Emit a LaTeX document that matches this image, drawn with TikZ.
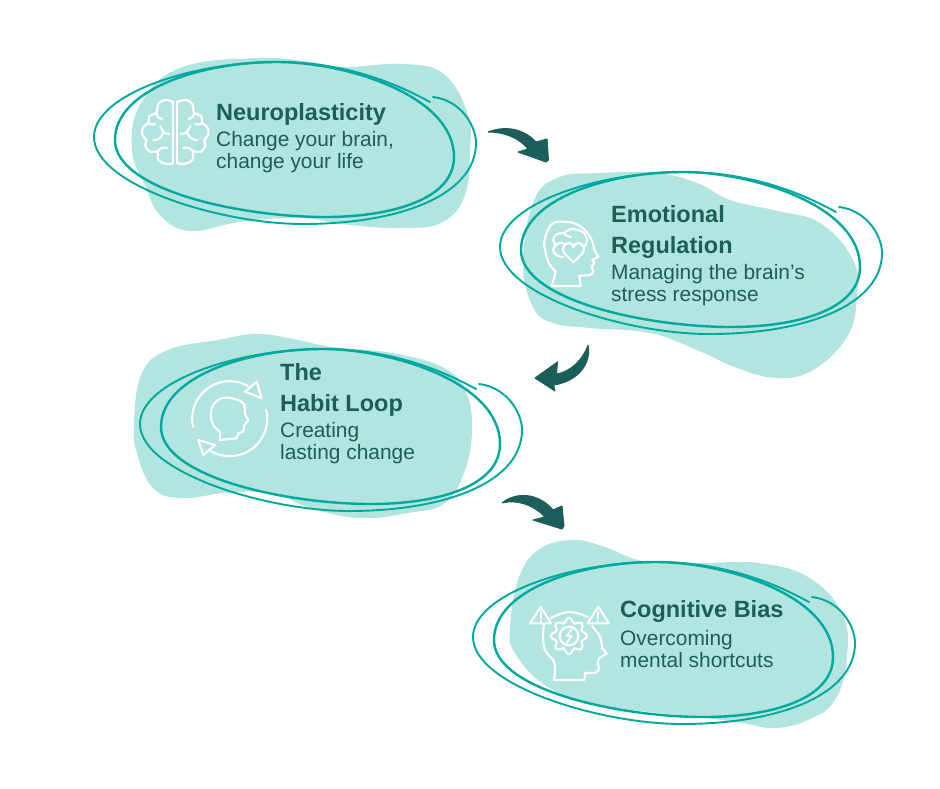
\documentclass[tikz,border=0pt]{standalone}
\usepackage{fontspec}
\setmainfont{Liberation Sans}
\definecolor{blobfill}{HTML}{B2E4E0}
\definecolor{ringline}{HTML}{00A99D}
\definecolor{darkteal}{HTML}{1C5E5A}
\tikzset{
  blob/.style={fill=blobfill,draw=none},
  ringstroke/.style={draw=ringline,line cap=round},
  icon/.style={draw=white,line width=2.1pt,line join=round,line cap=round},
  hop/.style={fill=darkteal,draw=darkteal,line width=1pt,line join=round},
  titletext/.style={anchor=base west,inner sep=0pt,text=darkteal,font=\fontsize{23.5}{26}\selectfont\bfseries},
  bodytext/.style={anchor=base west,inner sep=0pt,text=darkteal,font=\fontsize{20.9}{22}\selectfont},
  pics/scribble/.style={code={
    \draw[ringstroke,line width=1.9pt] (433,97) .. controls (460,100) and (476,125) .. (476,143) .. controls (476,195) and (400,224) .. (303,224) .. controls (220,224) and (94,185) .. (94,137) .. controls (94,95) and (190,62) .. (277,62) .. controls (340,62) and (390,80) .. (430,102);
    \draw[ringstroke,line width=2.4pt] (277,62) .. controls (345,62) and (454,95) .. (454,157) .. controls (454,200) and (390,217) .. (325,217) .. controls (240,217) and (115,190) .. (115,140) .. controls (115,90) and (200,62) .. (277,62) -- cycle;
  }},
}
\begin{document}
\begin{tikzpicture}[x=1pt,y=-1pt]
\useasboundingbox (0,0) rectangle (940,788);

\fill[blob] plot[smooth cycle,tension=0.7] coordinates {(132,150) (140,105) (180,68) (257,58) (310,62) (345,67) (405,64) (445,75) (468,115) (470,150) (465,195) (443,222) (405,228) (350,225) (300,218) (240,222) (190,231) (160,215) (145,185)};
\fill[blob] plot[smooth cycle,tension=0.7] coordinates {(523,263) (533,203) (557,178) (600,173) (657,173) (697,183) (730,200) (773,210) (820,223) (853,260) (857,297) (847,337) (813,370) (777,378) (737,368) (697,350) (650,333) (590,328) (553,323) (533,307)};
\fill[blob] plot[smooth cycle,tension=0.7] coordinates {(134,423) (142,373) (168,350) (218,340) (258,334) (298,340) (332,347) (392,353) (442,367) (465,390) (472,427) (465,470) (445,503) (408,513) (358,518) (308,507) (272,493) (225,493) (185,498) (155,490) (138,457)};
\fill[blob] plot[smooth cycle,tension=0.7] coordinates {(510,630) (518,580) (538,550) (572,540) (605,547) (638,560) (672,562) (705,563) (758,563) (808,577) (842,613) (847,657) (835,700) (808,720) (775,728) (742,723) (698,717) (632,710) (585,703) (542,683) (515,653)};

\pic at (0,0) {scribble};
\pic at (406,110) {scribble};
\pic at (46,287) {scribble};
\pic at (379,500) {scribble};

% brain
\begin{scope}[shift={(175.3,132)}]
\foreach \s in {1,-1} {
\begin{scope}[xscale=\s]
\draw[icon] (-2,-30) -- (-2,31);
\draw[icon] plot[smooth,tension=0.7] coordinates {(-2,-30) (-10,-32) (-17,-28) (-19,-19) (-26,-16) (-27,-9) (-32,-5) (-33,3) (-29,8) (-30,14) (-25,20) (-18,20) (-17,28) (-9,32) (-2,31)};
\draw[icon] (-19,-19) .. controls (-18,-14) and (-15,-13) .. (-13,-13);
\draw[icon] (-27,-9) .. controls (-24,-7) and (-22,-7) .. (-20,-8);
\draw[icon] (-15,-6) .. controls (-13,-1) and (-11,2) .. (-6,2);
\draw[icon] (-12,1) .. controls (-14,6) and (-17,8) .. (-22,8);
\draw[icon] (-18,20) .. controls (-16,16) and (-12,15) .. (-8,16);
\end{scope}
}
\end{scope}

% head with heart
\draw[icon] plot[smooth,tension=0.5] coordinates {(579.3,275.7) (590,275) (593.3,271.7) (591.7,266.7) (594.3,263.3) (592.3,260)};
\draw[icon] (592.3,260) -- (598.3,256.7) -- (594.3,250);
\draw[icon] plot[smooth,tension=0.7] coordinates {(594.3,250) (590,236.7) (578.3,225) (563.3,221.7) (551.7,224.3) (545,238.3) (545,250) (549,263.3) (555.7,271.7)};
\draw[icon] (555.7,271.7) -- (551.7,286) -- (580.7,286) -- (579.3,275.7);
\draw[icon] (573.3,262.3) -- (565,254) .. controls (560,248) and (565,243) .. (569,243) .. controls (571,243) and (573,245) .. (573.3,247) .. controls (574,245) and (576,243) .. (578,243) .. controls (582,243) and (587,248) .. (582,254) -- cycle;
\draw[icon] plot[smooth,tension=0.7] coordinates {(563,257) (556,255) (553,249) (556,245) (553,240) (557,234) (564,233) (570,229) (578,230) (584,233) (587,240) (585,246)};
\draw[icon] (564,233) .. controls (566,236) and (568,237) .. (571,237);
\draw[icon] (556,245) .. controls (559,243) and (561,242) .. (563,243);

% loop around a head
\draw[icon] (229.7,418.7) ++(167.6:37.5) arc (167.6:299:37.5);
\draw[icon] (229.7,418.7) ++(-13.5:37.5) arc (-13.5:120:37.5);
\draw[icon] (256.7,381.7) -- (261.7,398.3) -- (245,391.7) -- cycle;
\draw[icon] (198.3,440) -- (203.3,455) -- (215,445) -- cycle;
\draw[icon] plot[smooth,tension=0.7] coordinates {(220,431.7) (213.3,425) (211,415) (213.3,405) (221.7,398.3) (231.7,398.3) (243.3,403.3) (245,413.3) (248.3,420)};
\draw[icon] (248.3,420) -- (244.3,425) -- (243.3,431.7) -- (238.3,433.3) -- (236.7,438.3) -- (220,440) -- (220,431.7);

% head with gear
\draw[icon] (530,623.3) -- (540.7,606.7) -- (551,623.3) -- cycle;
\draw[icon] (587.7,623.3) -- (598.3,606.7) -- (609,623.3) -- cycle;
\draw[icon] (540.7,612) -- (540.7,618);
\draw[icon] (540.7,621) -- (540.7,621.2);
\draw[icon] (598.3,612) -- (598.3,618);
\draw[icon] (598.3,621) -- (598.3,621.2);
\draw[icon] plot[smooth,tension=0.7] coordinates {(551,618) (569,612) (588,617)};
\draw[icon] plot[smooth,tension=0.7] coordinates {(544,624) (543,637) (545,650) (553,660) (555,668) (554,680)};
\draw[icon] (554,680) -- (584.3,680) -- (585,672.7);
\draw[icon] plot[smooth,tension=0.5] coordinates {(585,672.7) (596,672.7) (599,668) (597.7,663.3) (599,658.3)};
\draw[icon] (599,658.3) -- (606.7,653.3) -- (602,648);
\draw[icon] plot[smooth,tension=0.7] coordinates {(602,648) (600,637) (592,626)};
\begin{scope}[shift={(569,636)}]
\draw[icon] plot[domain=0:360,samples=97,smooth] (\x:{15.8+2.2*cos(8*\x)});
\draw[icon] (0,0) circle (9.3);
\draw[icon,line width=1.6pt] (2.7,-6.7) -- (-2.3,0) -- (2.7,0) -- (-2.3,6.7);
\end{scope}

\node[titletext] (title1) at (216,120.5) {Neuroplasticity};
\node[bodytext] (body1a) at (216,146.5) {Change your brain,};
\node[bodytext] (body1b) at (216,168.5) {change your life};

\node[titletext] (title2a) at (611,222.5) {Emotional};
\node[titletext] (title2b) at (611,253.5) {Regulation};
\node[bodytext] (body2a) at (611,279.5) {Managing the brain’s};
\node[bodytext] (body2b) at (611,301) {stress response};

\node[titletext] (title3a) at (280,380.5) {The};
\node[titletext] (title3b) at (280,411.5) {Habit Loop};
\node[bodytext] (body3a) at (280,437) {Creating};
\node[bodytext] (body3b) at (280,459) {lasting change};

\node[titletext] (title4) at (620,617.5) {Cognitive Bias};
\node[bodytext] (body4a) at (620,645.5) {Overcoming};
\node[bodytext] (body4b) at (620,667) {mental shortcuts};

\coordinate (hopAtail) at (488,132);
\coordinate (hopAtip) at (546,162);
\coordinate (hopBtail) at (588,345);
\coordinate (hopBtip) at (535,378);
\coordinate (hopCtail) at (502,503);
\coordinate (hopCtip) at (562,529);

\fill[hop] (hopAtail) .. controls (506,125) and (524,129) .. (536,142) -- (547,139) -- (548.5,160) -- (hopAtip) -- (518,152) -- (528,149) .. controls (520,139) and (506,132) .. (hopAtail);
\fill[hop] (hopBtail) .. controls (592,365) and (576,382) .. (553.5,385) -- (555,391) -- (hopBtip) -- (557.5,362) -- (556.5,374) .. controls (570,372) and (583,360) .. (hopBtail);
\fill[hop] (hopCtail) .. controls (515,492) and (538,492) .. (553,510) -- (562,506) -- (564,526) -- (hopCtip) -- (533,520) -- (545,517) .. controls (535,506) and (518,499) .. (hopCtail);
\end{tikzpicture}
\end{document}
